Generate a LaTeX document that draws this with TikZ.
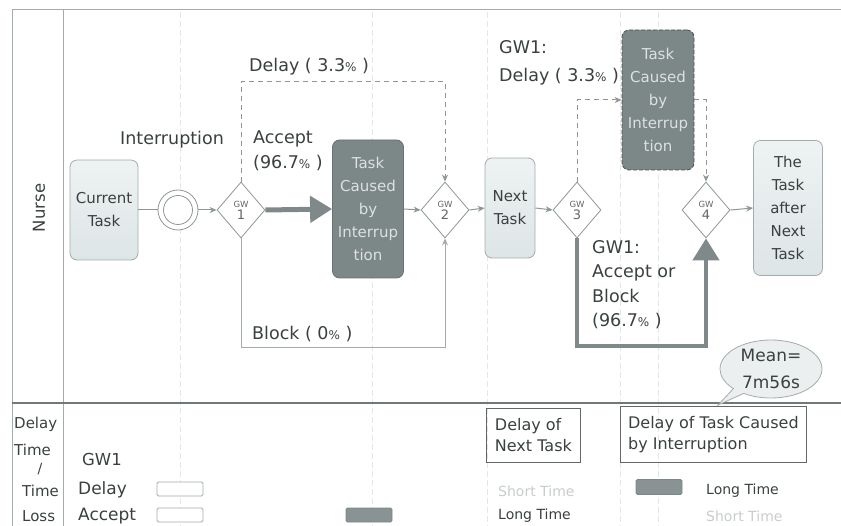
\documentclass[tikz,border=0pt]{standalone}
\usepackage{fontspec}
\setmainfont{DejaVu Sans}
\usetikzlibrary{arrows.meta,shapes.geometric,shapes.callouts}
\definecolor{lightfill}{HTML}{DDE5E6}
\definecolor{boxborder}{HTML}{A3ACAC}
\definecolor{darkfill}{HTML}{7C8787}
\definecolor{darktext}{HTML}{DCE1E1}
\definecolor{linegray}{HTML}{8E9696}
\definecolor{thickgray}{HTML}{7F8989}
\definecolor{txt}{HTML}{3A4040}
\definecolor{faint}{HTML}{C8CCCC}
\definecolor{grid}{HTML}{E4E7E7}
\newcommand{\pct}{{\fontsize{12}{12}\selectfont\%}}
\begin{document}
\begin{tikzpicture}[x=1pt,y=-1pt,
  font=\fontsize{15}{23}\selectfont, text=txt,
  lightbox/.style={draw=boxborder, line width=0.8pt, rounded corners=7pt, top color=white!50!lightfill, bottom color=lightfill, align=center, inner sep=0pt, font=\fontsize{15}{23}\selectfont},
  darkbox/.style={draw=darkfill!85!black, line width=0.8pt, rounded corners=7pt, fill=darkfill, text=darktext, align=center, inner sep=0pt, font=\fontsize{15}{23}\selectfont},
  gw/.style={draw=linegray, line width=0.8pt, fill=white, diamond, minimum width=48pt, minimum height=56pt, inner sep=0pt, align=center, font=\fontsize{13}{12}\selectfont, text=txt!80},
  thin/.style={draw=linegray, line width=1pt, -{Stealth[length=7pt,width=6pt]}},
  dashl/.style={thin, dash pattern=on 5pt off 4pt},
  thickl/.style={draw=thickgray, line width=5pt, -{Triangle[length=22pt,width=26pt]}},
  lbl/.style={font=\fontsize{17.5}{23}\selectfont, text=txt, align=left, inner sep=0pt},
  small/.style={font=\fontsize{14}{17}\selectfont, text=txt, inner sep=0pt},
  legbox/.style={draw=boxborder, line width=0.8pt, rounded corners=1.5pt}
]
\useasboundingbox (0,0) rectangle (841,526);
% faint grid lines
\foreach \xx in {180,372,487,620,658} \draw[grid, line width=0.6pt, dash pattern=on 6pt off 3pt] (\xx,12) -- (\xx,526);
% lane frame
\draw[draw=boxborder, line width=1pt] (841,10) -- (12,10) -- (12,526);
\draw[draw=boxborder, line width=1pt] (63,10) -- (63,526);
\draw[draw=linegray!80!black, line width=1.6pt] (12,403) -- (841,403);
\node[rotate=90, font=\fontsize{16.5}{20}\selectfont] (nurse) at (39,208) {Nurse};

% nodes
\node[lightbox, minimum width=68pt, minimum height=100pt] (cur) at (104,210) {Current\\Task};
\node[draw=linegray, line width=0.8pt, circle, minimum size=40pt, fill=white, inner sep=0pt] (ev) at (178,210) {};
\node[draw=linegray, line width=0.8pt, circle, minimum size=29pt, inner sep=0pt] (evin) at (178,210) {};
\node[gw] (gw1) at (241,210) {{\fontsize{8.5}{10}\selectfont GW}\\1};
\node[darkbox, minimum width=71pt, minimum height=138pt] (tci) at (368,209) {Task\\Caused\\by\\Interrup\\tion};
\node[gw] (gw2) at (445,210) {{\fontsize{8.5}{10}\selectfont GW}\\2};
\node[lightbox, minimum width=50pt, minimum height=100pt] (next) at (510,208) {Next\\Task};
\node[gw] (gw3) at (577,210) {{\fontsize{8.5}{10}\selectfont GW}\\3};
\node[darkbox, draw=darkfill!60!black, dash pattern=on 4pt off 2pt, minimum width=72pt, minimum height=140pt] (tct) at (658,100) {Task\\Caused\\by\\Interrup\\tion};
\node[gw] (gw4) at (706,210) {{\fontsize{8.5}{10}\selectfont GW}\\4};
\node[lightbox, minimum width=69pt, minimum height=135pt] (after) at (788,208) {The\\Task\\after\\Next\\Task};

% connectors
\draw[draw=linegray, line width=1pt] (cur.east) -- (ev.west);
\draw[thin] (ev.east) -- (gw1.west);
\draw[thickl] (gw1.east) -- (tci.west);
\draw[thin] (tci.east) -- (gw2.west);
\draw[thin] (gw2.east) -- (next.west);
\draw[thin] (next.east) -- (gw3.west);
\draw[thin] (gw4.east) -- (after.west);
\coordinate (d1) at (241,82);
\draw[dashl] (gw1.north) -- (d1) -| (gw2.north);
\coordinate (b1) at (241,348);
\draw[thin, draw=linegray!80] (gw1.south) -- (b1) -| (gw2.south);
\draw[dashl] (gw3.north) |- (tct.west);
\draw[dashl] (tct.east) -| (gw4.north);
\coordinate (t1) at (577,346);
\draw[thickl, line width=4.5pt] (gw3.south) -- (t1) -| (gw4.south);

% labels
\node[lbl, anchor=west] (ldelay) at (249,67) {Delay ( 3.3\pct{} )};
\node[lbl, anchor=west] (lint) at (120,140) {Interruption};
\node[lbl, anchor=north west, font=\fontsize{17.5}{25}\selectfont] (lacc) at (253,131) {Accept\\(96.7\pct{} )};
\node[lbl, anchor=west] (lblock) at (252,334) {Block ( 0\pct{} )};
\node[lbl, anchor=north west, font=\fontsize{17.5}{28}\selectfont] (lgw1d) at (499,40) {GW1:\\Delay ( 3.3\pct{} )};
\node[lbl, anchor=north west, font=\fontsize{17.5}{24.5}\selectfont] (lgw1a) at (592,240) {GW1:\\Accept or\\Block\\(96.7\pct{} )};

% callout
\node[ellipse callout, draw=boxborder, line width=0.8pt, fill=lightfill!60, minimum width=102pt, minimum height=58pt, callout absolute pointer={(718,405)}, align=center, inner sep=0pt, font=\fontsize{17}{27}\selectfont] (mean) at (771,369) {Mean=\\7m56s};

% bottom lane
\node[small, anchor=west, font=\fontsize{15}{17}\selectfont] (h1) at (14,424) {Delay};
\node[small, anchor=west, font=\fontsize{15}{17}\selectfont] (h2) at (14,450) {Time};
\node[small] (h3) at (40,469) {/};
\node[small, anchor=west, font=\fontsize{15}{17}\selectfont] (h4) at (22,491) {Time};
\node[small, anchor=west, font=\fontsize{15}{17}\selectfont] (h5) at (22,516) {Loss};
\node[lbl, anchor=west, font=\fontsize{16.5}{20}\selectfont] (bgw1) at (82,459) {GW1};
\node[lbl, anchor=west, font=\fontsize{17}{20}\selectfont] (bdel) at (78,490) {Delay};
\node[lbl, anchor=west, font=\fontsize{17}{20}\selectfont] (bacc) at (78,516) {Accept};
\node[legbox, fill=white, minimum width=46pt, minimum height=14pt, inner sep=0pt] (bx1) at (180,489) {};
\node[legbox, fill=white, minimum width=46pt, minimum height=14pt, inner sep=0pt] (bx2) at (180,515) {};
\node[legbox, fill=darkfill!90, draw=darkfill, minimum width=46pt, minimum height=14pt, inner sep=0pt] (bx3) at (369,515) {};
\node[draw=txt!80, line width=0.8pt, align=left, anchor=north west, minimum width=94pt, minimum height=54pt, inner sep=3pt, font=\fontsize{16}{21}\selectfont] (dnt) at (486,408) {Delay of\\Next Task};
\node[draw=txt!80, line width=0.8pt, align=left, anchor=north west, minimum width=186pt, minimum height=56pt, inner sep=4pt, font=\fontsize{16}{21}\selectfont] (dtc) at (620,406) {Delay of Task Caused\\by Interruption};
\node[small, text=faint, anchor=west] (st1) at (498,491) {Short Time};
\node[small, anchor=west] (lt1) at (498,516) {Long Time};
\node[legbox, fill=darkfill!90, draw=darkfill, minimum width=46pt, minimum height=15pt, inner sep=0pt] (bx4) at (659,487) {};
\node[small, anchor=west] (lt2) at (706,491) {Long Time};
\node[small, text=faint, anchor=west] (st2) at (706,516) {Short Time};
\end{tikzpicture}
\end{document}
